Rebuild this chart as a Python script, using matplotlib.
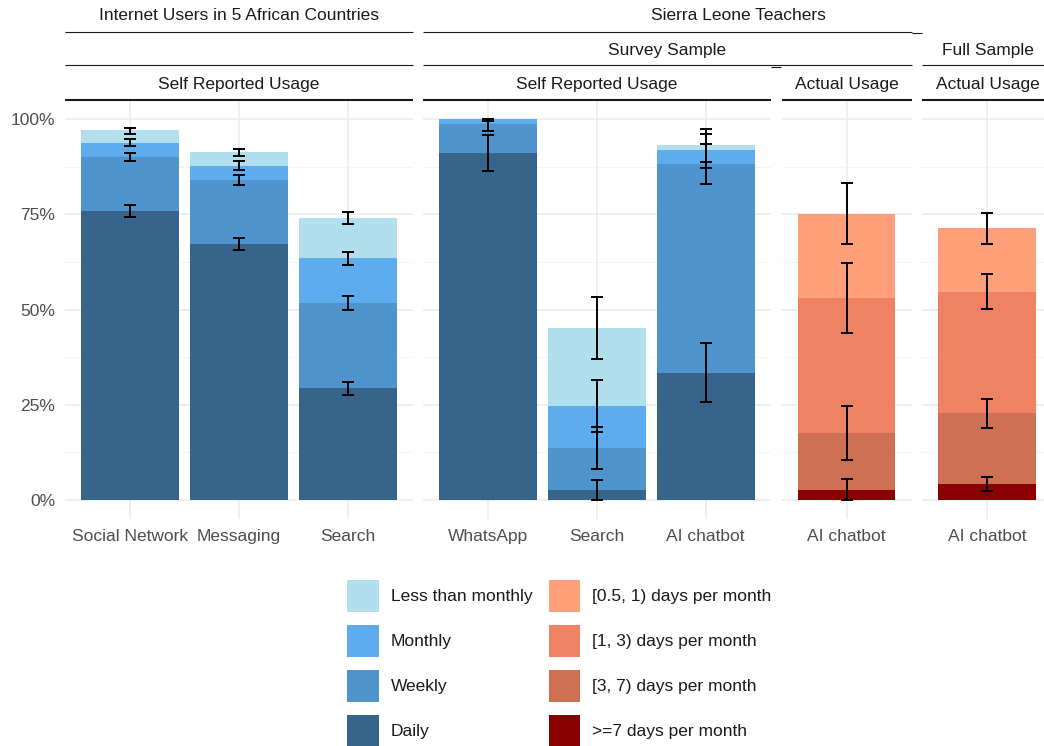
import matplotlib.pyplot as plt
from matplotlib.patches import Patch
from matplotlib.lines import Line2D

plt.rcParams['font.family'] = ['Liberation Sans', 'DejaVu Sans']

W, H = 1044, 746
FS = 12.5

# colours (R: lightblue2, steelblue2, steelblue3, steelblue4 / lightsalmon, salmon2, salmon3, darkred)
freq_labels = ['Less than monthly', 'Monthly', 'Weekly', 'Daily']
freq_colors = ['#B2DFEE', '#5CACEE', '#4F94CD', '#36648B']
days_labels = ['[0.5, 1) days per month', '[1, 3) days per month',
               '[3, 7) days per month', '>=7 days per month']
days_colors = ['#FFA07A', '#EE8262', '#CD7054', '#8B0000']

# ---- panel 1: internet users, self reported (segments, bottom -> top: daily, weekly, monthly, ltm)
p1_cats = ['Social Network', 'Messaging', 'Search']
p1_daily = [75.9, 67.2, 29.4]
p1_weekly = [14.2, 16.8, 22.4]
p1_monthly = [3.7, 3.7, 11.7]
p1_ltm = [3.3, 3.6, 10.5]
# error bars on cumulative shares (lo, hi), order daily, weekly, monthly, ltm
p1_err_lo = [[74.4, 65.6, 27.6], [88.9, 82.6, 50.0], [92.9, 86.6, 61.6], [96.2, 90.3, 72.4]]
p1_err_hi = [[77.4, 68.9, 31.0], [91.2, 85.2, 53.5], [94.7, 88.9, 65.1], [97.6, 92.2, 75.6]]

# ---- panel 2: Sierra Leone teachers, survey sample, self reported
p2_cats = ['WhatsApp', 'Search', 'AI chatbot']
p2_daily = [91.2, 2.6, 33.3]
p2_weekly = [7.5, 11.0, 54.9]
p2_monthly = [1.2, 11.1, 3.7]
p2_ltm = [0.1, 20.4, 1.3]
p2_err_lo = [[86.4, 0.0, 25.8], [96.8, 8.1, 83.0], [99.6, 17.9, 87.2], [99.6, 37.1, 88.8]]
p2_err_hi = [[95.9, 5.2, 41.1], [100.0, 19.2, 93.4], [100.0, 31.5, 96.2], [100.0, 53.2, 97.3]]

# ---- panel 3: survey sample, actual usage (bottom -> top: >=7, [3,7), [1,3), [0.5,1))
p3_cats = ['AI chatbot']
p3_7plus = [2.6]
p3_3to7 = [15.1]
p3_1to3 = [35.3]
p3_half = [22.2]
p3_err_lo = [[0.0], [10.5], [43.9], [67.2]]
p3_err_hi = [[5.6], [24.7], [62.1], [83.1]]

# ---- panel 4: full sample, actual usage
p4_cats = ['AI chatbot']
p4_7plus = [4.2]
p4_3to7 = [18.6]
p4_1to3 = [31.8]
p4_half = [16.8]
p4_err_lo = [[2.4], [18.9], [50.2], [67.2]]
p4_err_hi = [[6.0], [26.6], [59.3], [75.4]]

fig = plt.figure(figsize=(W / 100, H / 100), dpi=100)


def fx(x):
    return x / W


def fy(y):
    return 1 - y / H


def panel(x0, x1, cats, layers, colors, err_lo, err_hi, ylabels=False):
    ax = fig.add_axes([fx(x0), fy(519), (x1 - x0) / W, 419 / H])
    pos = list(range(1, len(cats) + 1))
    bottom = [0] * len(cats)
    for vals, c in zip(layers, colors):
        ax.bar(pos, vals, bottom=bottom, width=0.9, color=c, zorder=2)
        bottom = [b + v for b, v in zip(bottom, vals)]
    for lo, hi in zip(err_lo, err_hi):
        mid = [(a + b) / 2 for a, b in zip(lo, hi)]
        yerr = [[m - a for m, a in zip(mid, lo)], [b - m for m, b in zip(mid, hi)]]
        ax.errorbar(pos, mid, yerr=yerr, fmt='none', ecolor='black',
                    elinewidth=1.4, capsize=4, capthick=1.4, zorder=3)
    ax.set_xlim(0.4, len(cats) + 0.6)
    ax.set_ylim(-5, 105)
    ax.set_xticks(pos)
    ax.set_xticklabels(cats)
    ax.set_yticks([0, 25, 50, 75, 100])
    ax.set_yticks([12.5, 37.5, 62.5, 87.5], minor=True)
    ax.grid(True, which='major', color='#EBEBEB', lw=1.1, zorder=0)
    ax.grid(True, which='minor', axis='y', color='#F2F2F2', lw=0.6, zorder=0)
    ax.set_axisbelow(True)
    for s in ax.spines.values():
        s.set_visible(False)
    ax.tick_params(which='both', length=0, labelsize=FS, labelcolor='#4D4D4D')
    ax.tick_params(axis='x', pad=7)
    ax.tick_params(axis='y', pad=7)
    if ylabels:
        ax.set_yticklabels(['0%', '25%', '50%', '75%', '100%'])
    else:
        ax.set_yticklabels([])
    return ax


panel(65, 413, p1_cats, [p1_daily, p1_weekly, p1_monthly, p1_ltm],
      freq_colors[::-1], p1_err_lo, p1_err_hi, ylabels=True)
panel(423, 771, p2_cats, [p2_daily, p2_weekly, p2_monthly, p2_ltm],
      freq_colors[::-1], p2_err_lo, p2_err_hi)
panel(781.5, 911.5, p3_cats, [p3_7plus, p3_3to7, p3_1to3, p3_half],
      days_colors[::-1], p3_err_lo, p3_err_hi)
panel(922, 1052, p4_cats, [p4_7plus, p4_3to7, p4_1to3, p4_half],
      days_colors[::-1], p4_err_lo, p4_err_hi)


# ---- nested strips
def strip_text(x0, x1, y, s):
    fig.text(fx((x0 + x1) / 2), fy(y), s, ha='center', va='center',
             fontsize=FS, color='#1A1A1A')


def strip_line(x0, x1, y, lw):
    fig.add_artist(Line2D([fx(x0), fx(x1)], [fy(y), fy(y)], color='#1A1A1A',
                          lw=lw, solid_capstyle='butt'))


strip_text(65, 413, 16, 'Internet Users in 5 African Countries')
strip_text(423, 1053, 16, 'Sierra Leone Teachers')
strip_line(65, 413, 31.5, 0.8)
strip_line(423, 912, 31.5, 0.8)
strip_line(912, 922, 32.5, 0.8)

strip_text(423, 912, 50, 'Survey Sample')
strip_text(922, 1053, 50, 'Full Sample')
strip_line(65, 413, 65, 0.8)
strip_line(423, 912, 65, 0.8)
strip_line(771, 781, 66.5, 0.8)
strip_line(922, 1044, 65, 0.8)

strip_text(65, 413, 84, 'Self Reported Usage')
strip_text(423, 771, 84, 'Self Reported Usage')
strip_text(781.5, 911.5, 84, 'Actual Usage')
strip_text(922, 1053, 84, 'Actual Usage')
strip_line(65, 413, 99.5, 1.5)
strip_line(423, 771, 99.5, 1.5)
strip_line(781.5, 911.5, 99.5, 1.5)
strip_line(922, 1044, 99.5, 1.5)

# ---- legend
handles = [Patch(facecolor=c) for c in freq_colors] + [Patch(facecolor=c) for c in days_colors]
labels = freq_labels + days_labels
leg = fig.legend(handles, labels, ncol=2, loc='upper left',
                 bbox_to_anchor=(fx(347), fy(580)), frameon=False, fontsize=FS,
                 handlelength=1.84, handleheight=2.45, handletextpad=0.69,
                 labelspacing=0.75, columnspacing=0.92, borderpad=0, borderaxespad=0)
for t in leg.get_texts():
    t.set_color('#1A1A1A')

fig.savefig('out.png', dpi=100)
